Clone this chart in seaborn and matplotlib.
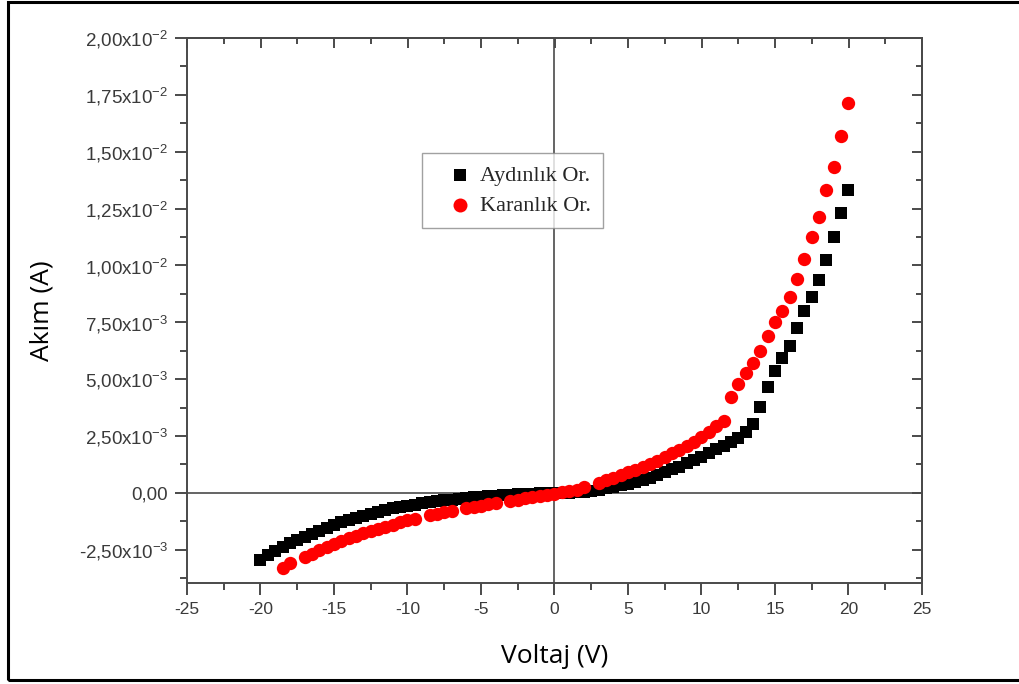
import numpy as np
import pandas as pd
import matplotlib
matplotlib.use("Agg")
import matplotlib.pyplot as plt
import seaborn as sns
from matplotlib.ticker import MultipleLocator
from matplotlib.patches import Rectangle
from matplotlib.font_manager import FontProperties

# data (current in mA)
voltaj_aydinlik = [-20, -19.5, -19, -18.5, -18, -17.5, -17, -16.5, -16, -15.5,
                   -15, -14.5, -14, -13.5, -13, -12.5, -12, -11.5, -11, -10.5,
                   -10, -9.5, -9, -8.5, -8, -7.5, -7, -6.5, -6, -5.5,
                   -5, -4.5, -4, -3.5, -3, -2.5, -2, -1.5, -1, -0.5,
                   0, 0.5, 1, 1.5, 2, 2.5, 3, 3.5, 4, 4.5,
                   5, 5.5, 6, 6.5, 7, 7.5, 8, 8.5, 9, 9.5,
                   10, 10.5, 11, 11.5, 12, 12.5, 13, 13.5, 14, 14.5,
                   15, 15.5, 16, 16.5, 17, 17.5, 18, 18.5, 19, 19.5, 20]
akim_aydinlik = [-2.95, -2.75, -2.57, -2.39, -2.22, -2.07, -1.93, -1.79, -1.66, -1.53,
                 -1.41, -1.30, -1.19, -1.09, -1.00, -0.91, -0.83, -0.75, -0.68, -0.62,
                 -0.56, -0.51, -0.46, -0.41, -0.37, -0.33, -0.29, -0.26, -0.23, -0.20,
                 -0.17, -0.14, -0.12, -0.10, -0.08, -0.06, -0.05, -0.03, -0.02, -0.01,
                 0.00, 0.00, 0.01, 0.03, 0.06, 0.10, 0.15, 0.20, 0.26, 0.33,
                 0.40, 0.48, 0.57, 0.67, 0.78, 0.90, 1.03, 1.16, 1.30, 1.45,
                 1.60, 1.76, 1.91, 2.05, 2.22, 2.42, 2.68, 3.02, 3.78, 4.66,
                 5.36, 5.93, 6.46, 7.25, 8.00, 8.62, 9.36, 10.24, 11.25, 12.31, 13.32]

voltaj_karanlik = [-18.5, -18, -17, -16.5, -16, -15.5, -15, -14.5, -14, -13.5,
                   -13, -12.5, -12, -11.5, -11, -10.5, -10, -9.5, -8.5, -8,
                   -7.5, -7, -6, -5.5, -5, -4.5, -4, -3, -2.5, -2,
                   -1.5, -1, -0.5, 0, 0.5, 1, 1.5, 2, 3, 3.5,
                   4, 4.5, 5, 5.5, 6, 6.5, 7, 7.5, 8, 8.5,
                   9, 9.5, 10, 10.5, 11, 11.5, 12, 12.5, 13, 13.5,
                   14, 14.5, 15, 15.5, 16, 16.5, 17, 17.5, 18, 18.5, 19, 19.5, 20]
akim_karanlik = [-3.30, -3.10, -2.82, -2.67, -2.52, -2.38, -2.24, -2.11, -1.99, -1.88,
                 -1.77, -1.67, -1.57, -1.48, -1.39, -1.30, -1.21, -1.13, -0.99, -0.92,
                 -0.86, -0.79, -0.68, -0.62, -0.56, -0.50, -0.44, -0.34, -0.29, -0.24,
                 -0.19, -0.14, -0.10, -0.05, 0.02, 0.08, 0.15, 0.24, 0.45, 0.55,
                 0.66, 0.78, 0.90, 1.02, 1.14, 1.28, 1.42, 1.57, 1.74, 1.90,
                 2.07, 2.25, 2.45, 2.70, 2.95, 3.18, 4.22, 4.79, 5.27, 5.71,
                 6.24, 6.90, 7.52, 8.00, 8.62, 9.41, 10.29, 11.25, 12.13, 13.32, 14.33, 15.69, 17.14]

x_ticks = [-25, -20, -15, -10, -5, 0, 5, 10, 15, 20, 25]
y_ticks = [-0.0025, 0, 0.0025, 0.005, 0.0075, 0.01, 0.0125, 0.015, 0.0175, 0.02]
y_tick_labels = ["-2,50x10$^{-3}$", "0,00", "2,50x10$^{-3}$", "5,00x10$^{-3}$",
                 "7,50x10$^{-3}$", "1,00x10$^{-2}$", "1,25x10$^{-2}$",
                 "1,50x10$^{-2}$", "1,75x10$^{-2}$", "2,00x10$^{-2}$"]

df_a = pd.DataFrame({"V": voltaj_aydinlik, "I": np.array(akim_aydinlik) * 1e-3})
df_k = pd.DataFrame({"V": voltaj_karanlik, "I": np.array(akim_karanlik) * 1e-3})

sns.set_style("ticks")
plt.rcParams['font.family'] = ['Liberation Sans', 'DejaVu Sans']
plt.rcParams['mathtext.fontset'] = 'custom'
plt.rcParams['mathtext.rm'] = 'Liberation Sans'
plt.rcParams['mathtext.it'] = 'Liberation Sans'
plt.rcParams['axes.unicode_minus'] = False

gray = "#4a4a4a"
fig = plt.figure(figsize=(10.2, 6.84), dpi=100)
ax = fig.add_axes([187/1020, 1 - 583/684, (922-187)/1020, (583-38)/684])

ax.axhline(0, color=gray, lw=1.2, zorder=1)
ax.axvline(0, color=gray, lw=1.2, zorder=1)

sns.scatterplot(data=df_a, x="V", y="I", marker="s", color="black", s=66,
                linewidth=0, label="Aydınlık Or.", ax=ax, zorder=3)
sns.scatterplot(data=df_k, x="V", y="I", marker="o", color="#ff0000", s=92,
                linewidth=0, label="Karanlık Or.", ax=ax, zorder=4)

ax.set_xlim(-25, 25)
ax.set_ylim(-0.00396, 0.02)
ax.set_xticks(x_ticks)
ax.set_xticklabels([str(t) for t in x_ticks])
ax.set_yticks(y_ticks, y_tick_labels)
ax.xaxis.set_minor_locator(MultipleLocator(2.5))
ax.yaxis.set_minor_locator(MultipleLocator(0.00125))

for sp in ax.spines.values():
    sp.set_visible(True)
    sp.set_color(gray)
    sp.set_linewidth(1.4)

ax.tick_params(which="both", direction="out", color=gray, width=1.4, labelcolor="#3a3a3a", pad=5)
ax.tick_params(which="major", length=8.5)
ax.tick_params(which="minor", length=5)
ax.tick_params(axis="y", labelsize=13.5)
ax.tick_params(axis="x", labelsize=12.5)

top = ax.secondary_xaxis("top")
top.set_xticks(x_ticks)
top.xaxis.set_minor_locator(MultipleLocator(2.5))
top.tick_params(which="both", direction="in", color=gray, width=1.4, labeltop=False)
top.tick_params(which="major", length=7)
top.tick_params(which="minor", length=4)
top.spines["top"].set_color(gray)
top.spines["top"].set_linewidth(1.4)

right = ax.secondary_yaxis("right")
right.set_yticks(y_ticks)
right.yaxis.set_minor_locator(MultipleLocator(0.00125))
right.tick_params(which="both", direction="in", color=gray, width=1.4, labelright=False)
right.tick_params(which="major", length=7)
right.tick_params(which="minor", length=4)
right.spines["right"].set_color(gray)
right.spines["right"].set_linewidth(1.4)

ax.set_xlabel("Voltaj (V)", fontsize=19, family="Open Sans", color="black")
ax.set_ylabel("Akım (A)", fontsize=19, family="Open Sans", color="black")
ax.xaxis.set_label_coords(0.5, -0.112)
ax.yaxis.set_label_coords(-0.18, 0.5)

leg = ax.legend(loc="upper left", bbox_to_anchor=((422-187)/735, (583-153)/545),
                prop=FontProperties(family="Liberation Serif", size=16),
                frameon=True, fancybox=False, borderaxespad=0, borderpad=0.55,
                handlelength=2.3, handletextpad=-0.25, labelspacing=0.42,
                markerscale=1.05)
leg.get_frame().set_edgecolor("#8a8a8a")
leg.get_frame().set_linewidth(1.0)

fig.patches.append(Rectangle((8/1020, 4/684), 1.2, (684-5.5)/684, transform=fig.transFigure,
                             fill=False, ec="black", lw=2.2, clip_on=False))

fig.savefig("out.png", dpi=100)
